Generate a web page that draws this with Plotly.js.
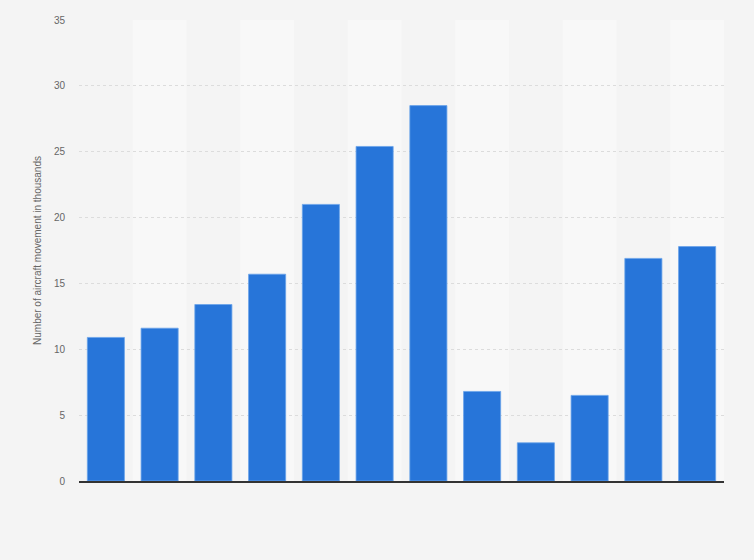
<!DOCTYPE html>
<html>
<head>
<meta charset="utf-8">
<script src="https://cdn.plot.ly/plotly-3.0.1.min.js"></script>
<style>html,body{margin:0;padding:0;background:#f4f4f4;}#chart{width:754px;height:560px;}</style>
</head>
<body>
<div id="chart"></div>
<script>
const categories = ["1","2","3","4","5","6","7","8","9","10","11","12"];
const values = [10.9, 11.6, 13.4, 15.7, 21.0, 25.4, 28.5, 6.8, 2.9, 6.5, 16.9, 17.8];
const yTickValues = [0, 5, 10, 15, 20, 25, 30, 35];
const yTitle = "Number of aircraft movement in thousands";

const shapes = [];
categories.forEach((c, i) => {
  if (i % 2 === 1) {
    shapes.push({type: "rect", xref: "x", yref: "paper", x0: i - 0.5, x1: i + 0.5, y0: 0, y1: 1,
      fillcolor: "#f8f8f8", line: {width: 0}, layer: "below"});
  }
});

Plotly.newPlot("chart", [{
  type: "bar",
  x: categories.map((c, i) => i),
  y: values,
  marker: {color: "#2775d9", line: {color: "#6aa3ea", width: 0.8}},
  width: 0.69,
  hoverinfo: "y"
}], {
  width: 754, height: 560,
  paper_bgcolor: "#f4f4f4",
  plot_bgcolor: "#f4f4f4",
  margin: {l: 79, r: 30, t: 20, b: 79},
  font: {family: "Liberation Sans, Arial, sans-serif", color: "#666"},
  showlegend: false,
  shapes: shapes,
  xaxis: {
    range: [-0.5, categories.length - 0.5],
    showticklabels: false, showgrid: false, zeroline: false,
    showline: true, linecolor: "#333", linewidth: 1.5, ticks: "", fixedrange: true
  },
  yaxis: {
    range: [0, 35],
    tickvals: yTickValues,
    tickfont: {size: 10, color: "#666"},
    showgrid: true, gridcolor: "#dcdcdc", griddash: "dot", gridwidth: 1,
    zeroline: false, showline: false, ticks: "",
    ticklabelstandoff: 13,
    title: {text: yTitle, font: {size: 10, color: "#666"}, standoff: 10},
    automargin: false, fixedrange: true
  }
}, {displayModeBar: false, staticPlot: true});
</script>
</body>
</html>
